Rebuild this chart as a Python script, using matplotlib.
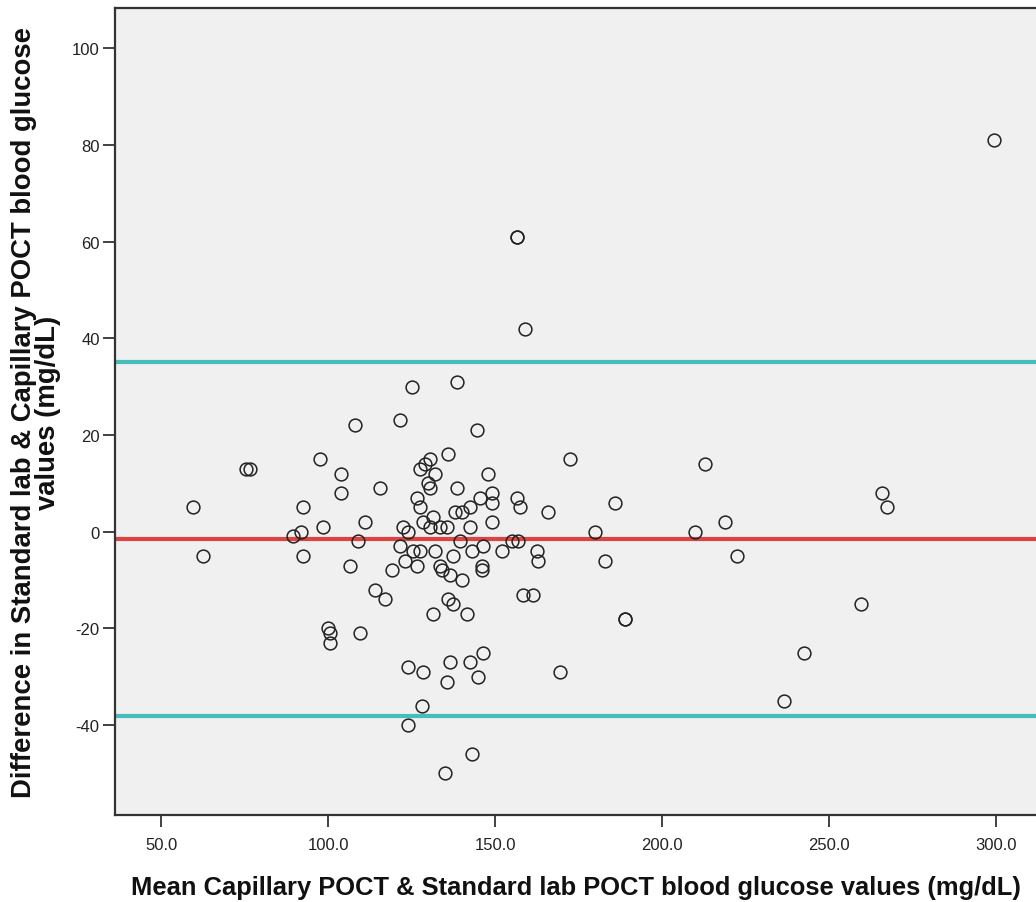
import matplotlib
matplotlib.use('Agg')
import matplotlib.pyplot as plt
from matplotlib.ticker import FormatStrFormatter

plt.rcParams['font.family'] = ['Liberation Sans', 'DejaVu Sans']
plt.rcParams['axes.unicode_minus'] = False

# mean of the two methods (mg/dL)
mean_vals = [59.5, 62.5, 75.5, 76.5, 89.5, 92, 92.5, 92.5, 97.5, 98.5,
             100, 100.5, 100.5, 104, 104, 106.5, 108, 109, 109.5, 111,
             114, 115.5, 117, 119, 121.5, 121.5, 122.5, 123, 124, 124,
             124, 125, 125.5, 126.5, 126.5, 127.5, 127.5, 127.5, 128, 128.5,
             128.5, 129, 130, 130.5, 130.5, 130.5, 131.5, 131.5, 132, 132,
             133.5, 133.5, 134, 135, 135.5, 135.5, 136, 136, 136.5, 136.5,
             137.5, 137.5, 138, 138.5, 138.5, 139.5, 140, 140, 141.5, 142.5,
             142.5, 142.5, 143, 143, 144.5, 145, 145.5, 146, 146, 146.5,
             146.5, 148, 149, 149, 149, 152, 155, 156.5, 156.5, 156.5,
             157, 157.5, 158.5, 159, 161.5, 162.5, 163, 166, 169.5, 172.5,
             180, 183, 186, 189, 189, 210, 213, 219, 222.5, 236.5,
             242.5, 259.5, 266, 267.5, 299.5]

# difference standard lab - capillary (mg/dL)
diff_vals = [5, -5, 13, 13, -1, 0, 5, -5, 15, 1,
             -20, -21, -23, 12, 8, -7, 22, -2, -21, 2,
             -12, 9, -14, -8, 23, -3, 1, -6, 0, -28,
             -40, 30, -4, 7, -7, 13, 5, -4, -36, 2,
             -29, 14, 10, 9, 15, 1, 3, -17, 12, -4,
             1, -7, -8, -50, 1, -31, 16, -14, -9, -27,
             -5, -15, 4, 31, 9, -2, 4, -10, -17, 5,
             1, -27, -4, -46, 21, -30, 7, -7, -8, -3,
             -25, 12, 8, 6, 2, -4, -2, 7, 61, 61,
             -2, 5, -13, 42, -13, -4, -6, 4, -29, 15,
             0, -6, 6, -18, -18, 0, 14, 2, -5, -35,
             -25, -15, 8, 5, 81]

mean_diff = -1.6
upper_loa = 35.0
lower_loa = -38.2

fig = plt.figure(figsize=(10.36, 9.03), dpi=100)
ax = fig.add_axes([115/1036, 87/903, 921/1036, 807/903])
ax.set_facecolor('#f0f0f0')

ax.axhline(upper_loa, color='#45bdbb', lw=3, zorder=2)
ax.axhline(lower_loa, color='#45bdbb', lw=3, zorder=2)
ax.axhline(mean_diff, color='#dc4442', lw=3, zorder=2)

ax.plot(mean_vals, diff_vals, 'o', ms=9.2, mfc='none', mec='#222222', mew=1.1, zorder=3)

ax.set_xlim(36.2, 312)
ax.set_ylim(-58.6, 108.3)
ax.set_xticks([50, 100, 150, 200, 250, 300])
ax.set_yticks([-40, -20, 0, 20, 40, 60, 80, 100])
ax.xaxis.set_major_formatter(FormatStrFormatter('%.1f'))

for s in ['left', 'bottom', 'top']:
    ax.spines[s].set_color('#333333')
    ax.spines[s].set_linewidth(1.6)
ax.spines['right'].set_visible(False)
ax.tick_params(axis='both', direction='out', length=8.5, width=1.3, color='#333333',
               labelsize=12, labelcolor='#222222', pad=2.5)
ax.tick_params(axis='x', pad=7)

ax.set_xlabel('Mean Capillary POCT & Standard lab POCT blood glucose values (mg/dL)',
              fontsize=18.4, fontweight='bold', labelpad=17, color='#111111')
ax.set_ylabel('Difference in Standard lab & Capillary POCT blood glucose\nvalues (mg/dL)',
              fontsize=19.8, fontweight='bold', labelpad=8, color='#111111',
              linespacing=0.9)

fig.savefig('out.png', dpi=100)
